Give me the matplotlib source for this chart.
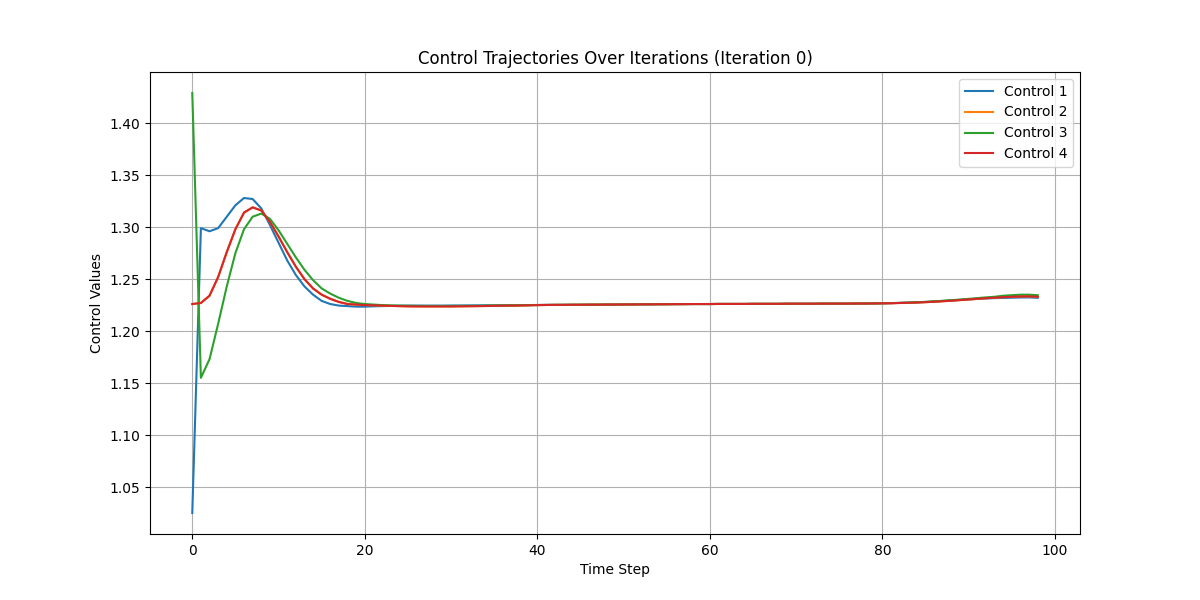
import matplotlib
matplotlib.use("Agg")
import matplotlib.pyplot as plt

# control values per time step (0..98)
control1 = [
    1.025, 1.299, 1.296, 1.299, 1.310, 1.321, 1.328, 1.327, 1.318, 1.302,
    1.285, 1.268, 1.254, 1.243, 1.235, 1.229, 1.226, 1.2245, 1.224, 1.2235,
    1.2235, 1.2238, 1.2240, 1.2242, 1.2244, 1.2245, 1.2245, 1.2245, 1.2245, 1.2245,
    1.2246, 1.2246, 1.2247, 1.2247, 1.2248, 1.2248, 1.2249, 1.2249, 1.2250, 1.2250,
    1.2251, 1.2252, 1.2252, 1.2253, 1.2253, 1.2254, 1.2254, 1.2255, 1.2255, 1.2256,
    1.2256, 1.2257, 1.2257, 1.2258, 1.2258, 1.2259, 1.2259, 1.2260, 1.2260, 1.2260,
    1.2260, 1.2261, 1.2261, 1.2261, 1.2261, 1.2262, 1.2262, 1.2262, 1.2262, 1.2263,
    1.2263, 1.2263, 1.2263, 1.2264, 1.2264, 1.2264, 1.2264, 1.2265, 1.2265, 1.2266,
    1.2267, 1.2269, 1.2271, 1.2274, 1.2277, 1.2280, 1.2285, 1.2290, 1.2295, 1.2300,
    1.2305, 1.2310, 1.2314, 1.2317, 1.2319, 1.2321, 1.2323, 1.2324, 1.2320,
]
control4 = [
    1.226, 1.227, 1.234, 1.252, 1.276, 1.298, 1.314, 1.319, 1.316, 1.305,
    1.291, 1.276, 1.262, 1.250, 1.241, 1.235, 1.231, 1.228, 1.226, 1.2255,
    1.2250, 1.2248, 1.2245, 1.2242, 1.2240, 1.2238, 1.2237, 1.2237, 1.2237, 1.2237,
    1.2237, 1.2238, 1.2239, 1.2240, 1.2241, 1.2243, 1.2244, 1.2245, 1.2246, 1.2248,
    1.2250, 1.2251, 1.2252, 1.2252, 1.2253, 1.2253, 1.2254, 1.2254, 1.2255, 1.2255,
    1.2256, 1.2256, 1.2257, 1.2257, 1.2258, 1.2258, 1.2259, 1.2259, 1.2260, 1.2260,
    1.2260, 1.2261, 1.2261, 1.2261, 1.2261, 1.2262, 1.2262, 1.2262, 1.2262, 1.2263,
    1.2263, 1.2263, 1.2263, 1.2264, 1.2264, 1.2264, 1.2264, 1.2265, 1.2265, 1.2266,
    1.2267, 1.2268, 1.2270, 1.2272, 1.2275, 1.2278, 1.2282, 1.2287, 1.2292, 1.2298,
    1.2304, 1.2310, 1.2316, 1.2321, 1.2326, 1.2330, 1.2333, 1.2334, 1.2330,
]
control2 = list(control4)  # hidden under control 4 in the reference
control3 = [
    1.429, 1.155, 1.173, 1.207, 1.243, 1.275, 1.298, 1.310, 1.313, 1.308,
    1.297, 1.284, 1.271, 1.259, 1.249, 1.241, 1.236, 1.232, 1.229, 1.227,
    1.226, 1.2255, 1.2250, 1.2247, 1.2245, 1.2243, 1.2242, 1.2241, 1.2241, 1.2241,
    1.2241, 1.2242, 1.2242, 1.2243, 1.2244, 1.2245, 1.2246, 1.2247, 1.2248, 1.2249,
    1.2250, 1.2251, 1.2252, 1.2252, 1.2253, 1.2253, 1.2254, 1.2254, 1.2255, 1.2255,
    1.2256, 1.2256, 1.2257, 1.2257, 1.2258, 1.2258, 1.2259, 1.2259, 1.2260, 1.2260,
    1.2260, 1.2261, 1.2261, 1.2261, 1.2261, 1.2262, 1.2262, 1.2262, 1.2262, 1.2263,
    1.2263, 1.2263, 1.2263, 1.2264, 1.2264, 1.2264, 1.2264, 1.2265, 1.2265, 1.2266,
    1.2267, 1.2269, 1.2271, 1.2274, 1.2277, 1.2281, 1.2286, 1.2291, 1.2297, 1.2303,
    1.2310, 1.2317, 1.2324, 1.2330, 1.2340, 1.2345, 1.2350, 1.2350, 1.2345,
]
steps = list(range(len(control1)))

fig, ax = plt.subplots(figsize=(12, 6))
ax.plot(steps, control1, label='Control 1')
ax.plot(steps, control2, label='Control 2')
ax.plot(steps, control3, label='Control 3')
ax.plot(steps, control4, label='Control 4')
ax.set_xlabel("Time Step")
ax.set_ylabel("Control Values")
ax.set_title("Control Trajectories Over Iterations (Iteration 0)")
ax.legend(loc='upper right')
ax.grid(True)
plt.savefig("out.png")
